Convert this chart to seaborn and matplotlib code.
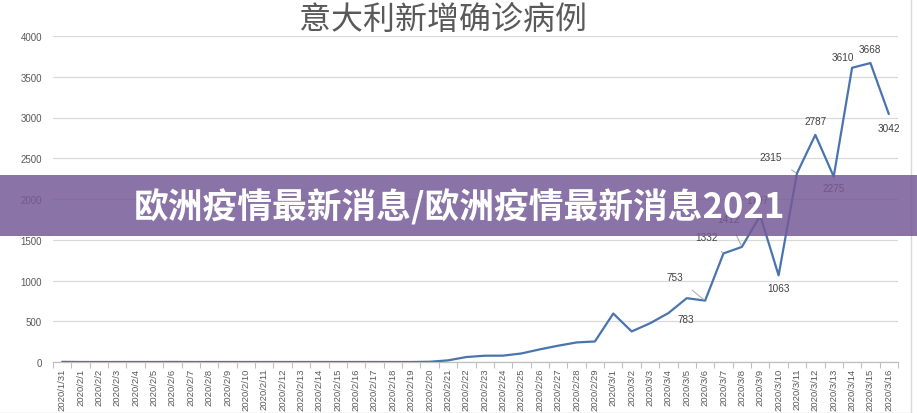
import matplotlib
matplotlib.use("Agg")
import matplotlib.pyplot as plt
import seaborn as sns
import pandas as pd
from matplotlib.lines import Line2D
from matplotlib.patches import Rectangle

dates = ["2020/1/31"] + [f"2020/2/{d}" for d in range(1, 30)] + [f"2020/3/{d}" for d in range(1, 17)]
cases = [2,
         0, 0, 0, 0, 0, 1, 0, 0, 0, 0, 0, 0, 0, 0, 0, 0, 0, 0, 0, 3,
         20, 61, 77, 78, 105, 155, 200, 240, 252,
         595, 375, 475, 600, 783, 753, 1332, 1412, 1797, 1063,
         2315, 2787, 2275, 3610, 3668, 3042]
title = "意大利新增确诊病例"
banner = "欧洲疫情最新消息/欧洲疫情最新消息2021"
yticks = [0, 500, 1000, 1500, 2000, 2500, 3000, 3500, 4000]

# labelled points: date -> (offset px x, offset px y, leader line)
label_dates = ["2020/3/5", "2020/3/6", "2020/3/7", "2020/3/8", "2020/3/9", "2020/3/10",
               "2020/3/11", "2020/3/12", "2020/3/13", "2020/3/14", "2020/3/15", "2020/3/16"]
label_offsets = [(-1, -21), (-30, 24), (-17, 16), (-13, 28), (-3, 16), (0, -13),
                 (-26, 16), (0, 14), (0, -11), (-9, 11), (-1, 14), (0, -14)]
label_leaders = [False, True, True, True, False, False, True, False, False, False, False, False]

df = pd.DataFrame({"pos": range(len(dates)), "date": dates, "cases": cases})

sns.set_theme(style="white")
plt.rcParams["font.family"] = ["Liberation Sans", "Noto Sans CJK SC", "DejaVu Sans"]

fig = plt.figure(figsize=(9.17, 4.14), dpi=100)
ax = fig.add_axes([53 / 917, 1 - 363 / 414, (898 - 53) / 917, (363 - 37) / 414])

sns.lineplot(data=df, x="pos", y="cases", ax=ax, color="#4A74AE", linewidth=1.6, zorder=3)

ax.set_xlim(-0.5, len(dates) - 0.5)
ax.set_ylim(0, 4000)
ax.set_yticks(yticks)
ax.set_yticklabels([str(v) for v in yticks], fontsize=7, color="#595959")
ax.set_xticks(range(len(dates)))
ax.set_xticklabels(dates, rotation=90, fontsize=6.8, color="#595959")
ax.set_xticks([i + 0.5 for i in range(-1, len(dates))], minor=True)
ax.tick_params(axis="x", which="major", length=0, pad=4)
ax.tick_params(axis="x", which="minor", length=4, color="#BFBFBF", width=0.8, bottom=True)
ax.tick_params(axis="y", length=0, pad=8)
ax.set_xlabel("")
ax.set_ylabel("")
ax.grid(axis="y", color="#D9D9D9", linewidth=0.9)
ax.grid(axis="x", visible=False)
for s in ["left", "right", "top"]:
    ax.spines[s].set_visible(False)
ax.spines["bottom"].set_color("#BFBFBF")
ax.spines["bottom"].set_linewidth(0.9)

for d, (ox, oy), lead in zip(label_dates, label_offsets, label_leaders):
    i = dates.index(d)
    v = cases[i]
    ax.annotate(str(v), xy=(i, v), xytext=(ox, oy), textcoords="offset pixels",
                ha="center", va="center", fontsize=7.2, color="#404040", zorder=4,
                arrowprops=dict(arrowstyle="-", color="#A6A6A6", lw=0.7,
                                shrinkA=6, shrinkB=1) if lead else None)

fig.text(443 / 917, 1 - 20 / 414, title, fontsize=23, color="#595959",
         ha="center", va="center", family=["Noto Sans CJK SC", "DejaVu Sans"])

# frame lines of the original chart area
fig.add_artist(Line2D([0, 911 / 917], [0.5 / 414, 0.5 / 414], transform=fig.transFigure,
                      color="#D9D9D9", lw=1))
fig.add_artist(Line2D([911 / 917, 911 / 917], [0, 1], transform=fig.transFigure,
                      color="#D9D9D9", lw=1))

# banner overlay
fig.add_artist(Rectangle((0, 1 - 237 / 414), 1, 61 / 414, transform=fig.transFigure,
                         facecolor="#765A98", alpha=0.85, edgecolor="none", zorder=10))
fig.text(460 / 917, 1 - 207 / 414, banner, fontsize=25, fontweight="bold", color="white",
         ha="center", va="center", zorder=11, family=["Noto Sans CJK SC", "DejaVu Sans"])

fig.savefig("out.png", dpi=100)
